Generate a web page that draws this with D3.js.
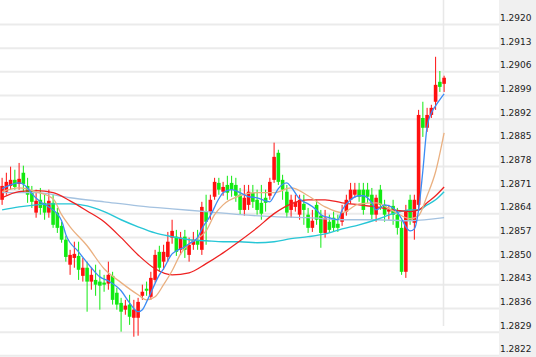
<!DOCTYPE html>
<html>
<head>
<meta charset="utf-8">
<script src="https://cdn.jsdelivr.net/npm/d3@7"></script>
<style>
  html, body { margin: 0; padding: 0; background: #fff; }
  svg { display: block; }
</style>
</head>
<body>
<svg id="chart" width="536" height="357"></svg>
<script>
// ---- Data ----
const tickLabels = ["1.2920","1.2913","1.2906","1.2899","1.2892","1.2885","1.2878","1.2871","1.2864","1.2857","1.2850","1.2843","1.2836","1.2829","1.2822"];

const open = [1.28680,1.28704,1.28721,1.28739,1.28727,1.28760,1.28721,1.28704,1.28642,1.28680,
1.28671,1.28642,1.28671,1.28642,1.28603,1.28562,1.28488,1.28508,1.28514,1.28455,
1.28479,1.28438,1.28443,1.28438,1.28435,1.28432,1.28455,1.28405,1.28375,1.28355,
1.28370,1.28331,1.28331,1.28396,1.28417,1.28393,1.28443,1.28526,1.28497,1.28511,
1.28568,1.28571,1.28532,1.28571,1.28517,1.28547,1.28562,1.28532,1.28645,1.28645,
1.28689,1.28730,1.28704,1.28724,1.28730,1.28724,1.28695,1.28650,1.28665,1.28701,
1.28680,1.28671,1.28686,1.28692,1.28739,1.28819,1.28739,1.28704,1.28650,1.28659,
1.28636,1.28668,1.28636,1.28597,1.28665,1.28633,1.28582,1.28615,1.28627,1.28609,
1.28615,1.28645,1.28680,1.28695,1.28710,1.28710,1.28710,1.28695,1.28636,1.28710,
1.28665,1.28645,1.28662,1.28636,1.28597,1.28467,1.28680,1.28612,1.28665,1.28922,
1.28893,1.28931,1.28970,1.29029,1.29023];

const close = [1.28721,1.28733,1.28739,1.28718,1.28742,1.28727,1.28695,1.28674,1.28677,1.28656,
1.28642,1.28677,1.28606,1.28597,1.28562,1.28511,1.28517,1.28520,1.28473,1.28479,
1.28438,1.28458,1.28429,1.28426,1.28429,1.28458,1.28384,1.28370,1.28349,1.28367,
1.28334,1.28355,1.28378,1.28408,1.28411,1.28449,1.28517,1.28479,1.28526,1.28556,
1.28588,1.28526,1.28568,1.28532,1.28547,1.28562,1.28547,1.28659,1.28615,1.28680,
1.28733,1.28710,1.28718,1.28701,1.28710,1.28692,1.28650,1.28686,1.28704,1.28674,
1.28650,1.28639,1.28671,1.28733,1.28807,1.28733,1.28710,1.28642,1.28680,1.28674,
1.28680,1.28650,1.28597,1.28618,1.28621,1.28582,1.28627,1.28591,1.28597,1.28597,
1.28642,1.28680,1.28710,1.28710,1.28689,1.28650,1.28689,1.28636,1.28686,1.28665,
1.28636,1.28650,1.28636,1.28597,1.28467,1.28645,1.28621,1.28680,1.28931,1.28893,
1.28931,1.28952,1.29020,1.29014,1.29041];

const high = [1.28745,1.28760,1.28778,1.28769,1.28789,1.28781,1.28745,1.28721,1.28710,1.28715,
1.28695,1.28710,1.28695,1.28656,1.28615,1.28574,1.28532,1.28556,1.28556,1.28508,
1.28497,1.28479,1.28488,1.28473,1.28458,1.28497,1.28467,1.28420,1.28390,1.28384,
1.28399,1.28384,1.28390,1.28429,1.28438,1.28467,1.28532,1.28544,1.28547,1.28585,
1.28621,1.28591,1.28585,1.28591,1.28568,1.28585,1.28591,1.28674,1.28695,1.28695,
1.28745,1.28745,1.28733,1.28751,1.28751,1.28745,1.28715,1.28724,1.28724,1.28724,
1.28710,1.28724,1.28710,1.28745,1.28849,1.28828,1.28754,1.28724,1.28695,1.28695,
1.28695,1.28695,1.28656,1.28650,1.28680,1.28650,1.28650,1.28636,1.28645,1.28636,
1.28665,1.28695,1.28730,1.28730,1.28730,1.28730,1.28730,1.28715,1.28695,1.28724,
1.28680,1.28665,1.28680,1.28656,1.28621,1.28665,1.28695,1.28695,1.28946,1.28970,
1.28952,1.28961,1.29103,1.29061,1.29047];

const low = [1.28665,1.28695,1.28710,1.28710,1.28710,1.28701,1.28671,1.28656,1.28627,1.28636,
1.28621,1.28627,1.28597,1.28582,1.28553,1.28497,1.28458,1.28479,1.28443,1.28438,
1.28349,1.28414,1.28396,1.28355,1.28408,1.28414,1.28370,1.28355,1.28290,1.28340,
1.28310,1.28275,1.28278,1.28384,1.28396,1.28384,1.28435,1.28467,1.28473,1.28497,
1.28550,1.28514,1.28517,1.28508,1.28497,1.28532,1.28532,1.28517,1.28547,1.28621,
1.28680,1.28695,1.28692,1.28680,1.28689,1.28674,1.28636,1.28633,1.28650,1.28656,
1.28636,1.28621,1.28645,1.28680,1.28730,1.28724,1.28680,1.28627,1.28627,1.28645,
1.28621,1.28606,1.28582,1.28585,1.28606,1.28538,1.28568,1.28582,1.28585,1.28585,
1.28603,1.28633,1.28668,1.28686,1.28674,1.28636,1.28671,1.28621,1.28615,1.28650,
1.28615,1.28621,1.28606,1.28577,1.28458,1.28449,1.28606,1.28562,1.28650,1.28866,
1.28881,1.28922,1.28946,1.28999,1.28999];

// Moving-average lines: candle index + value read at that candle
const ma5Idx = [0,4,6,7,9,11,14,15,18,21,23,25,28,30,32,33,34,35,37,38,40,41,43,44,46,47,49,51,52,54,56,58,60,62,63,64,65,67,68,70,71,72,74,75,77,79,80,82,84,85,87,88,90,92,94,95,96,97,98,99,100,101,102,103,104];
const ma5 = [1.28713,1.28730,1.28715,1.28698,1.28674,1.28659,1.28618,1.28577,1.28526,1.28479,1.28452,1.28440,1.28411,1.28375,1.28349,1.28355,1.28378,1.28405,1.28458,1.28476,1.28520,1.28529,1.28541,1.28550,1.28568,1.28594,1.28633,1.28683,1.28701,1.28710,1.28701,1.28689,1.28686,1.28677,1.28674,1.28692,1.28713,1.28730,1.28718,1.28683,1.28674,1.28668,1.28650,1.28636,1.28627,1.28621,1.28650,1.28680,1.28692,1.28692,1.28671,1.28650,1.28665,1.28656,1.28624,1.28600,1.28588,1.28594,1.28650,1.28766,1.28896,1.28937,1.28958,1.28976,1.28993];

const ma10Idx = [0,4,8,12,14,16,20,24,28,32,34,36,38,40,42,44,46,48,50,52,56,60,64,68,72,76,80,84,88,92,96,98,100,102,104];
const ma10 = [1.28704,1.28715,1.28704,1.28683,1.28636,1.28600,1.28544,1.28476,1.28435,1.28399,1.28384,1.28393,1.28429,1.28470,1.28520,1.28550,1.28565,1.28588,1.28636,1.28665,1.28692,1.28701,1.28701,1.28715,1.28692,1.28659,1.28642,1.28668,1.28671,1.28647,1.28624,1.28633,1.28692,1.28763,1.28878];

const ma20Idx = [0,4,8,12,16,20,24,28,32,36,40,44,48,52,56,60,64,68,72,76,80,84,88,92,96,98,100,102,104];
const ma20 = [1.28686,1.28704,1.28707,1.28701,1.28677,1.28647,1.28615,1.28568,1.28517,1.28476,1.28458,1.28464,1.28491,1.28523,1.28559,1.28597,1.28639,1.28668,1.28680,1.28680,1.28671,1.28665,1.28659,1.28650,1.28645,1.28650,1.28671,1.28692,1.28718];

const ma60Idx = [0,4,8,12,16,20,24,28,32,36,40,44,48,52,56,60,64,68,72,76,80,84,88,92,96,98,100,102,104];
const ma60 = [1.28650,1.28659,1.28665,1.28668,1.28668,1.28662,1.28645,1.28621,1.28600,1.28582,1.28571,1.28562,1.28559,1.28556,1.28556,1.28553,1.28556,1.28565,1.28571,1.28579,1.28594,1.28606,1.28621,1.28639,1.28650,1.28650,1.28665,1.28680,1.28704];

const ma120Idx = [0,8,16,24,32,40,48,56,64,72,80,88,96,104];
const ma120 = [1.28701,1.28701,1.28686,1.28674,1.28662,1.28653,1.28645,1.28636,1.28630,1.28627,1.28621,1.28621,1.28618,1.28627];

// ---- Drawing ----
const W = 536, H = 357;
const svg = d3.select("#chart");
const n = open.length;
const tickVals = tickLabels.map(Number);

const x = d3.scaleLinear().domain([0, n - 1]).range([2.1, 444.1]);
const y = d3.scaleLinear().domain([1.2822, 1.2920]).range([355.3, 24]);

svg.append("rect").attr("width", W).attr("height", H).attr("fill", "#ffffff");
// right label panel
svg.append("rect").attr("x", 499).attr("y", 0).attr("width", W - 499).attr("height", H).attr("fill", "#f0f0f0");

// horizontal gridlines + labels via axis
const axis = d3.axisRight(y)
  .tickValues(tickVals)
  .tickSize(-499)
  .tickPadding(1)
  .tickFormat((d, i) => tickLabels[i]);
const gAxis = svg.append("g").attr("transform", "translate(499,0)").call(axis);
gAxis.select(".domain").remove();
gAxis.selectAll(".tick line").attr("stroke", "#ebebeb").attr("stroke-width", 2);
gAxis.selectAll(".tick text")
  .attr("x", 1).attr("y", -3.5).attr("dy", 0)
  .attr("fill", "#222").attr("font-family", "DejaVu Sans, sans-serif").attr("font-size", 9);
gAxis.attr("font-size", null).attr("font-family", null);

// vertical gridline
svg.append("line")
  .attr("x1", 443.5).attr("x2", 443.5).attr("y1", 0).attr("y2", 326)
  .attr("stroke", "#e8e8e8").attr("stroke-width", 1.5);

// candles
const candles = d3.range(n).map(i => ({ i, o: open[i], c: close[i], h: high[i], l: low[i] }));
const up = "#ff1010", down = "#12ea12";
const bw = 3.6;
const g = svg.append("g");
g.selectAll("line.wick").data(candles).join("line")
  .attr("class", "wick")
  .attr("x1", d => x(d.i)).attr("x2", d => x(d.i))
  .attr("y1", d => y(d.h)).attr("y2", d => y(d.l))
  .attr("stroke", d => d.c >= d.o ? up : down).attr("stroke-width", 1);
g.selectAll("rect.body").data(candles).join("rect")
  .attr("class", "body")
  .attr("x", d => x(d.i) - bw / 2)
  .attr("width", bw)
  .attr("y", d => y(Math.max(d.o, d.c)))
  .attr("height", d => Math.max(1, Math.abs(y(d.o) - y(d.c))))
  .attr("fill", d => d.c >= d.o ? up : down);

// moving average lines
const line = d3.line().x(d => x(d[0])).y(d => y(d[1])).curve(d3.curveMonotoneX);
const maSeries = [
  { idx: ma120Idx, v: ma120, color: "#a4c2e0", w: 1.3 },
  { idx: ma60Idx, v: ma60, color: "#27c6d6", w: 1.4 },
  { idx: ma20Idx, v: ma20, color: "#ee2222", w: 1.3 },
  { idx: ma10Idx, v: ma10, color: "#eab080", w: 1.3 },
  { idx: ma5Idx, v: ma5, color: "#3b8cf5", w: 1.3 }
];
svg.append("g").selectAll("path").data(maSeries).join("path")
  .attr("d", s => line(s.idx.map((k, j) => [k, s.v[j]])))
  .attr("fill", "none")
  .attr("stroke", s => s.color)
  .attr("stroke-width", s => s.w);
</script>
</body>
</html>
